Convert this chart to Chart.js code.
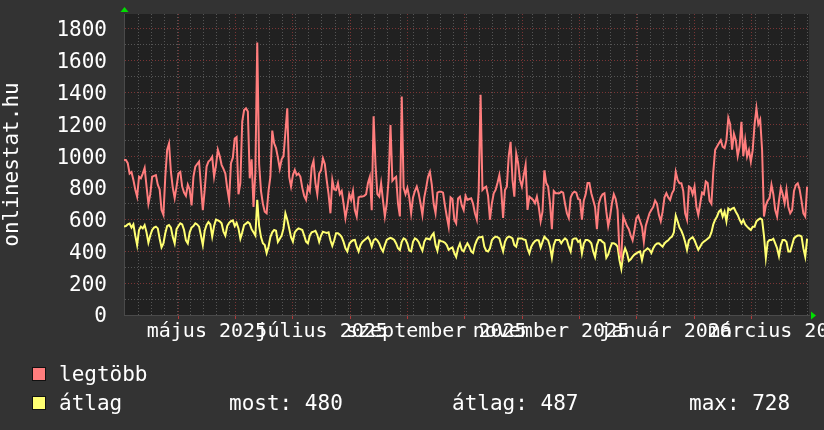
<!DOCTYPE html>
<html><head><meta charset="utf-8">
<script src="https://cdn.jsdelivr.net/npm/chart.js@4.4.1/dist/chart.umd.min.js"></script>
<style>
html,body{margin:0;padding:0;background:#333333;}
#wrap{position:relative;width:824px;height:430px;overflow:hidden;background:#333333;}
#c{position:absolute;left:0;top:0;}
.leg{position:absolute;font-family:"DejaVu Sans Mono",monospace;font-size:21px;color:#ffffff;white-space:pre;line-height:24px;}
.box{position:absolute;width:12px;height:12px;border:1px solid #111;}
</style></head><body>
<div id="wrap">
<canvas id="c" width="824" height="430"></canvas>
<div class="box" id="b0" style="left:32px;top:367px;"></div>
<div class="leg" id="l0" style="left:59px;top:362px;"></div>
<div class="box" id="b1" style="left:32px;top:396px;"></div>
<div class="leg" id="l1" style="left:59px;top:391px;"></div>
<div class="leg" id="s0" style="left:229px;top:391px;"></div>
<div class="leg" id="s1" style="left:452px;top:391px;"></div>
<div class="leg" id="s2" style="left:689px;top:391px;"></div>
</div>
<script>
// ---------------- data ----------------
const seriesNames = ["legtöbb", "átlag"];
const yAxisTitle = "onlinestat.hu";
// daily values, day 0 = 2025-04-02
const startDate = "2025-04-02";
const maxValues = [
975,975,955,890,900,850,790,745,870,860,
890,925,810,700,760,870,875,880,820,790,
660,630,870,1040,1080,900,800,735,808,890,
900,808,770,750,820,790,690,870,934,950,
965,810,660,787,934,965,976,995,870,940,
1040,1000,945,920,890,797,725,955,990,1110,
1120,760,830,1217,1290,1300,1280,860,980,680,
900,1714,950,780,700,650,640,780,870,1160,
1080,1050,990,920,980,1000,1150,1300,870,808,
880,913,880,890,870,800,750,725,808,780,
930,970,830,760,890,910,985,950,850,760,
640,850,790,787,830,760,780,700,610,680,
760,724,780,660,620,740,745,745,750,760,
830,870,660,1250,950,760,745,830,720,620,
700,850,1195,845,860,870,700,620,1375,800,
760,800,740,640,740,780,808,766,703,630,
740,800,870,900,820,700,640,770,776,776,
770,690,620,556,740,730,600,577,734,745,
690,660,750,724,730,734,700,640,600,780,
1385,787,800,808,750,600,700,766,787,830,
880,790,610,787,808,1000,1090,850,745,1015,
955,850,808,880,945,661,745,735,724,703,
745,680,590,650,910,830,808,703,540,780,
766,766,766,776,770,700,640,610,740,766,
776,770,730,724,600,720,760,830,830,766,
724,680,540,700,740,760,766,650,560,620,
703,760,730,660,400,360,620,590,560,540,
500,470,535,610,625,590,556,460,560,600,
640,660,680,720,700,630,590,650,740,766,
740,724,766,787,900,850,829,829,780,640,
600,808,800,760,808,680,630,700,770,760,
840,830,720,700,900,1040,1060,1080,1100,1059,
1050,1100,1240,1200,1040,1140,1100,1000,1060,1215,
1000,1100,997,1038,965,1038,1200,1300,1200,1230,
1040,620,690,720,735,820,760,660,620,720,
800,760,703,787,680,640,660,780,818,829,
790,720,640,620,808
];
const avgValues = [
556,560,570,575,550,570,500,440,535,556,
545,566,520,455,500,535,550,556,545,480,
425,450,514,560,566,550,490,450,540,560,
577,570,535,470,450,520,550,560,577,570,
556,500,440,530,566,585,570,493,560,600,
595,590,577,525,500,560,580,590,595,560,
580,545,480,520,566,575,585,575,540,520,
500,725,560,490,451,440,390,430,490,520,
535,530,460,480,500,545,640,600,545,490,
462,520,535,545,540,535,500,462,451,500,
520,525,530,505,460,500,524,520,516,520,
470,435,470,514,514,505,490,460,420,400,
445,462,470,472,430,400,440,460,470,480,
490,470,430,470,480,470,450,420,400,440,
472,480,485,480,472,450,420,409,460,482,
475,450,405,400,460,482,475,460,430,405,
460,482,480,475,500,515,440,405,470,465,
462,455,440,410,420,425,390,365,420,450,
409,400,430,451,430,400,390,440,470,490,
490,493,430,405,400,420,470,485,493,490,
482,440,400,460,485,493,490,482,440,430,
482,482,482,475,472,420,388,430,451,465,
472,470,425,460,493,480,470,430,360,440,
472,472,472,451,470,482,472,430,400,475,
482,482,460,470,388,450,472,472,465,451,
400,365,440,472,472,460,451,360,380,420,
451,451,445,430,346,290,380,420,390,340,
350,367,380,388,395,400,346,400,409,420,
410,390,420,440,450,451,440,430,450,462,
470,485,493,520,625,590,550,530,500,460,
410,470,482,490,470,440,410,430,451,462,
470,480,490,520,570,600,620,650,661,619,
650,590,670,660,670,675,650,630,600,577,
598,570,556,545,535,556,556,590,600,608,
600,500,360,460,472,472,480,451,420,370,
440,472,472,460,400,400,440,482,493,500,
500,495,420,367,480
];
const statLabels = ["most:", "átlag:", "max:"];
const statValues = [480, 487, 728];
// axis ticks (x in days from startDate)
const yTickValues = [0,200,400,600,800,1000,1200,1400,1600,1800];
const yMinorValues = [100,300,500,700,900,1100,1300,1500,1700];
const yMax = 1894;
const dayCount = 365;
const monthGridDays = [28.9,59.5,90.0,120.6,151.1,181.7,212.2,242.8,273.3,303.9,334.4];
const weekGridDays = [0.46,7.46,14.46,21.46,28.46,35.46,42.46,49.46,56.46,63.46,70.46,77.46,84.46,91.46,98.46,105.46,112.46,119.46,126.46,133.46,140.46,147.46,154.46,161.46,168.46,175.46,182.46,189.46,196.46,203.46,210.46,217.46,224.46,231.46,238.46,245.46,252.46,259.46,266.46,273.46,280.46,287.46,294.46,301.46,308.46,315.46,322.46,329.46,336.46,343.46,350.46,357.46,364.46];
const xLabelDays = [44.2,105.3,166.4,227.5,288.6,349.7];
const xLabelTexts = ["május 2025","július 2025","szeptember 2025","november 2025","január 2026","március 2026"];

// ---------------- style ----------------
const FONT = "'DejaVu Sans Mono', monospace";
const RED = "#ff7d7d";
const YEL = "#ffff72";
const MAJOR = "#7a3535";
const MINOR = "#555555";
const PLOT_BG = "#212121";

document.getElementById('b0').style.background = RED;
document.getElementById('b1').style.background = YEL;
document.getElementById('l0').textContent = seriesNames[0];
document.getElementById('l1').textContent = seriesNames[1];
['s0','s1','s2'].forEach((id,i)=>{document.getElementById(id).textContent = statLabels[i] + ' ' + statValues[i];});

const labels = maxValues.map((_, i) => i);
const isMajorX = v => monthGridDays.includes(v);

const bgPlugin = {
  id: 'bgp',
  beforeDraw(chart) {
    const {ctx, chartArea: a} = chart;
    ctx.save();
    ctx.fillStyle = PLOT_BG;
    ctx.fillRect(a.left, a.top, a.right - a.left, a.bottom - a.top);
    ctx.restore();
  },
  afterDraw(chart) {
    const {ctx, chartArea: a} = chart;
    ctx.save();
    ctx.fillStyle = '#00dd00';
    ctx.beginPath();
    ctx.moveTo(a.left - 3.5, a.top - 2);
    ctx.lineTo(a.left + 4.5, a.top - 2);
    ctx.lineTo(a.left + 0.5, a.top - 7);
    ctx.closePath(); ctx.fill();
    ctx.beginPath();
    ctx.moveTo(a.right + 2, a.bottom - 3.5);
    ctx.lineTo(a.right + 2, a.bottom + 4.5);
    ctx.lineTo(a.right + 7, a.bottom + 0.5);
    ctx.closePath(); ctx.fill();
    ctx.restore();
  }
};

new Chart(document.getElementById('c'), {
  type: 'line',
  data: {
    labels: labels,
    datasets: [
      {label: seriesNames[0], data: maxValues, borderColor: RED, borderWidth: 2, pointRadius: 0, tension: 0, fill: false, xAxisID: 'x', yAxisID: 'y'},
      {label: seriesNames[1], data: avgValues, borderColor: YEL, borderWidth: 2, pointRadius: 0, tension: 0, fill: false, xAxisID: 'x', yAxisID: 'y'}
    ]
  },
  options: {
    responsive: false,
    animation: false,
    devicePixelRatio: 1,
    layout: {padding: {left: 0, top: 14, right: 15, bottom: 80}},
    plugins: {legend: {display: false}, tooltip: {enabled: false}},
    scales: {
      x: {
        type: 'linear', min: 0, max: dayCount, position: 'bottom', weight: 0,
        afterBuildTicks: s => { s.ticks = weekGridDays.concat(monthGridDays).sort((a,b)=>a-b).map(v => ({value: v})); },
        afterFit: s => { s.height = 5; s.paddingLeft = 0; s.paddingRight = 0; },
        ticks: {display: false, autoSkip: false},
        grid: {
          color: c => (c.tick && isMajorX(c.tick.value)) ? MAJOR : MINOR,
          tickColor: c => (c.tick && isMajorX(c.tick.value)) ? '#b03a3a' : 'rgba(0,0,0,0)',
          drawTicks: true, tickLength: 4, lineWidth: 1
        },
        border: {display: true, color: '#4a4a4a', width: 1, dash: [1, 2]}
      },
      xl: {
        type: 'linear', min: 0, max: dayCount, position: 'bottom', weight: 1,
        afterBuildTicks: s => { s.ticks = xLabelDays.map(v => ({value: v})); },
        afterFit: s => { s.height = 30; s.paddingLeft = 0; s.paddingRight = 0; },
        ticks: {
          autoSkip: false, maxRotation: 0, minRotation: 0, padding: 0,
          color: '#ffffff', font: {family: FONT, size: 20},
          callback: (v, i) => xLabelTexts[i]
        },
        grid: {display: false, drawTicks: false},
        border: {display: false}
      },
      y: {
        type: 'linear', min: 0, max: yMax, position: 'left',
        afterBuildTicks: s => { s.ticks = yTickValues.concat(yMinorValues).sort((a,b)=>a-b).map(v => ({value: v})); },
        afterFit: s => { s.width = 124; s.paddingTop = 0; s.paddingBottom = 0; },
        ticks: {
          autoSkip: false, padding: 17, labelOffset: 2, color: '#ffffff', font: {family: FONT, size: 21},
          callback: v => yTickValues.includes(v) ? String(v) : ''
        },
        grid: {
          color: c => (c.tick && yTickValues.includes(c.tick.value)) ? MAJOR : MINOR,
          drawTicks: false, lineWidth: 1
        },
        border: {display: true, color: '#4a4a4a', width: 1, dash: [1, 2]},
        title: {display: true, text: yAxisTitle, color: '#ffffff', font: {family: FONT, size: 21}, padding: {top: 0, bottom: 0}}
      }
    }
  },
  plugins: [bgPlugin]
});
</script>
</body></html>
